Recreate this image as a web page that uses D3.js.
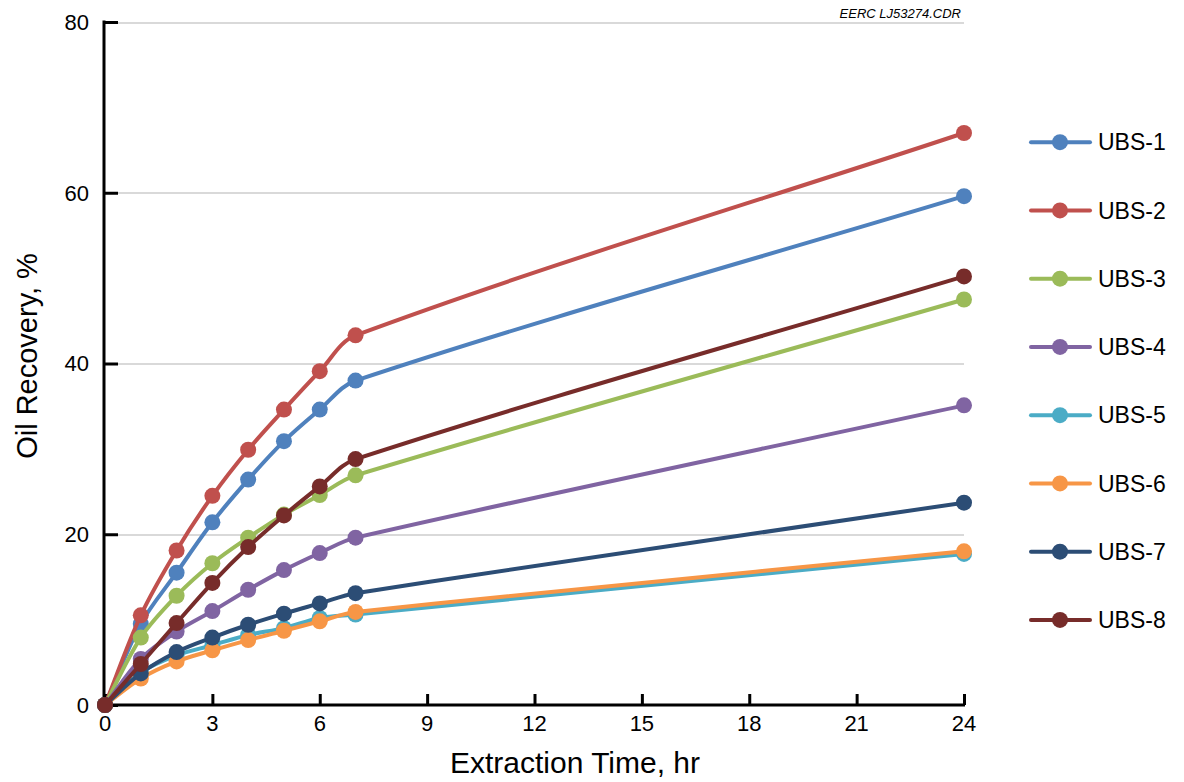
<!DOCTYPE html>
<html>
<head>
	<meta charset="utf-8" />
	<style>
		body {
			margin: 0;
			background-color: #fff;
			font-family: 'Liberation Sans', Arial, sans-serif;
		}
		.grid line {
			stroke: #d9d9d9;
			stroke-width: 2px;
			shape-rendering: crispEdges;
		}
		.grid path {
			stroke-width: 0;
		}
		.axis path, .axis line {
			stroke: #000;
			stroke-width: 3px;
		}
		.seriesLine {
			fill: none;
			stroke-width: 4px;
		}
		.legend text {
			font-size: 23px;
			fill: #000;
		}
	</style>
</head>
<body>
<div class='chart'></div>

<script src="https://d3js.org/d3.v7.min.js"></script>
<script>

//// Data ////
var hours = [0, 1, 2, 3, 4, 5, 6, 7, 24];
var seriesNames = ['UBS-1', 'UBS-2', 'UBS-3', 'UBS-4', 'UBS-5', 'UBS-6', 'UBS-7', 'UBS-8'];
var ubs1 = [0, 9.5, 15.5, 21.4, 26.4, 30.9, 34.6, 38.0, 59.6];
var ubs2 = [0, 10.5, 18.1, 24.5, 29.9, 34.6, 39.1, 43.3, 67.0];
var ubs3 = [0, 7.9, 12.8, 16.6, 19.6, 22.3, 24.6, 26.9, 47.5];
var ubs4 = [0, 5.4, 8.6, 11.0, 13.5, 15.8, 17.8, 19.6, 35.1];
var ubs5 = [0, 3.8, 5.8, 7.0, 8.2, 9.0, 10.2, 10.6, 17.7];
var ubs6 = [0, 3.1, 5.1, 6.4, 7.6, 8.7, 9.8, 10.9, 18.0];
var ubs7 = [0, 3.7, 6.2, 7.9, 9.4, 10.7, 11.9, 13.1, 23.7];
var ubs8 = [0, 4.8, 9.6, 14.3, 18.5, 22.2, 25.6, 28.8, 50.2];
var xTicks = [0, 3, 6, 9, 12, 15, 18, 21, 24];
var yTicks = [0, 20, 40, 60, 80];

var colors = ['#4f81bd', '#c0504d', '#9bbb59', '#8064a2', '#4bacc6', '#f79646', '#2c4d75', '#772c2a'];
var allValues = [ubs1, ubs2, ubs3, ubs4, ubs5, ubs6, ubs7, ubs8];

var series = seriesNames.map(function (name, i) {
	return {
		name: name,
		color: colors[i],
		points: hours.map(function (h, j) { return { t: h, v: allValues[i][j] }; })
	};
});

//// Smoothed curve, spreadsheet style ////
// tangent direction from the two neighbours, handle length from the segment itself,
// so a long segment stays straight and the bend sits near the short ones
function SmoothCurve(context) { this._context = context; }
SmoothCurve.prototype = {
	areaStart: function () { this._line = 0; },
	areaEnd: function () { this._line = NaN; },
	lineStart: function () { this._pts = []; },
	point: function (x, y) { this._pts.push([+x, +y]); },
	lineEnd: function () {
		var p = this._pts, c = this._context, n = p.length;
		if (!n) return;
		c.moveTo(p[0][0], p[0][1]);
		function dir(i) {
			var a = p[Math.max(i - 1, 0)], b = p[Math.min(i + 1, n - 1)];
			var dx = b[0] - a[0], dy = b[1] - a[1], l = Math.sqrt(dx * dx + dy * dy) || 1;
			return [dx / l, dy / l];
		}
		for (var i = 0; i < n - 1; i++) {
			var a = p[i], b = p[i + 1];
			var seg = Math.sqrt((b[0] - a[0]) * (b[0] - a[0]) + (b[1] - a[1]) * (b[1] - a[1]));
			var k = seg / 3, da = dir(i), db = dir(i + 1);
			c.bezierCurveTo(a[0] + da[0] * k, a[1] + da[1] * k,
				b[0] - db[0] * k, b[1] - db[1] * k, b[0], b[1]);
		}
	}
};
function curveSmooth(context) { return new SmoothCurve(context); }

//// Chart ////
var W = 1184, H = 782;
var svg = d3.select('.chart').append('svg')
	.attr('width', W)
	.attr('height', H);

var x = d3.scaleLinear().domain([0, 24]).range([105, 964]);
var y = d3.scaleLinear().domain([0, 80]).range([705, 22]);

// gridlines
svg.append('g')
	.attr('class', 'grid')
	.attr('transform', 'translate(104,0)')
	.call(d3.axisRight(y)
		.tickValues(yTicks.slice(1))
		.tickSize(860)
		.tickFormat('')
	);

// Y axis (ticks inward)
var yAxis = svg.append('g')
	.attr('class', 'axis')
	.attr('transform', 'translate(104,0)')
	.call(d3.axisRight(y).tickValues(yTicks).tickSize(14).tickSizeOuter(0).tickFormat(''));
yAxis.select('.domain').remove();
yAxis.append('line')
	.attr('x1', 0).attr('x2', 0)
	.attr('y1', y(80) - 1.5).attr('y2', y(0) + 1.5)
	.attr('stroke', '#000').attr('stroke-width', 3);

svg.append('g')
	.selectAll('text')
	.data(yTicks)
	.enter()
	.append('text')
	.attr('x', 89)
	.attr('y', function (d) { return y(d); })
	.attr('dy', '0.36em')
	.attr('text-anchor', 'end')
	.style('font-size', '22px')
	.text(function (d) { return d; });

// X axis (ticks upward)
var xAxis = svg.append('g')
	.attr('class', 'axis')
	.attr('transform', 'translate(0,705)')
	.call(d3.axisTop(x).tickValues(xTicks).tickSize(11).tickSizeOuter(0).tickFormat(''));
xAxis.select('.domain').remove();
xAxis.append('line')
	.attr('x1', 103).attr('x2', 965)
	.attr('y1', 0).attr('y2', 0)
	.attr('stroke', '#000').attr('stroke-width', 3);

svg.append('g')
	.selectAll('text')
	.data(xTicks)
	.enter()
	.append('text')
	.attr('x', function (d) { return x(d); })
	.attr('y', 731)
	.attr('text-anchor', 'middle')
	.style('font-size', '22px')
	.text(function (d) { return d; });

// axis titles
svg.append('text')
	.attr('x', 575)
	.attr('y', 773)
	.attr('text-anchor', 'middle')
	.style('font-size', '30px')
	.text('Extraction Time, hr');

svg.append('text')
	.attr('transform', 'translate(37,356) rotate(-90)')
	.attr('text-anchor', 'middle')
	.style('font-size', '29px')
	.text('Oil Recovery, %');

svg.append('text')
	.attr('x', 961)
	.attr('y', 18)
	.attr('text-anchor', 'end')
	.style('font-size', '13px')
	.style('font-style', 'italic')
	.text('EERC LJ53274.CDR');

// lines
var line = d3.line()
	.x(function (d) { return x(d.t); })
	.y(function (d) { return y(d.v); })
	.curve(curveSmooth);

var g = svg.selectAll('.series')
	.data(series)
	.enter()
	.append('g')
	.attr('class', 'series');

g.append('path')
	.attr('class', 'seriesLine')
	.attr('stroke', function (d) { return d.color; })
	.attr('d', function (d) { return line(d.points); });

g.selectAll('circle')
	.data(function (d) { return d.points.map(function (p) { return { t: p.t, v: p.v, color: d.color }; }); })
	.enter()
	.append('circle')
	.attr('cx', function (d) { return x(d.t); })
	.attr('cy', function (d) { return y(d.v); })
	.attr('r', 8)
	.attr('fill', function (d) { return d.color; });

// legend
var leg = d3.scaleBand().domain(seriesNames).range([108, 654]);
var legend = svg.append('g')
	.attr('class', 'legend')
	.selectAll('g')
	.data(series)
	.enter()
	.append('g')
	.attr('transform', function (d) { return 'translate(0,' + (leg(d.name) + leg.bandwidth() / 2) + ')'; });

legend.append('line')
	.attr('x1', 1031).attr('x2', 1090)
	.attr('stroke', function (d) { return d.color; })
	.attr('stroke-width', 4)
	.attr('stroke-linecap', 'round');
legend.append('circle')
	.attr('cx', 1060)
	.attr('r', 8)
	.attr('fill', function (d) { return d.color; });
legend.append('text')
	.attr('x', 1098)
	.attr('dy', '0.36em')
	.text(function (d) { return d.name; });

</script>
</body>
</html>
